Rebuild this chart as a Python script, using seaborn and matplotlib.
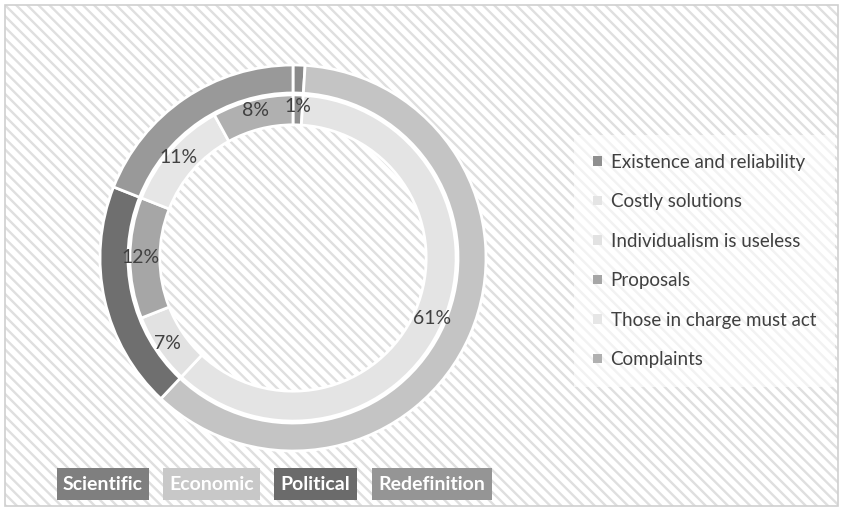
import matplotlib
matplotlib.use('Agg')
import matplotlib.pyplot as plt
import seaborn as sns
from matplotlib.patches import Rectangle, Patch

# ---- data ----
outer_labels = ['Scientific', 'Economic', 'Political', 'Redefinition']
outer_values = [1, 61, 19, 19]
inner_labels = ['Existence and reliability', 'Costly solutions', 'Individualism is useless',
                'Proposals', 'Those in charge must act', 'Complaints']
inner_values = [1, 61, 7, 12, 11, 8]

outer_colors = ['#8a8a8a', '#c4c4c4', '#6f6f6f', '#999999']
inner_colors = ['#8f8f8f', '#e4e4e4', '#e2e2e2', '#a6a6a6', '#e6e6e6', '#b0b0b0']
box_colors = ['#7f7f7f', '#c8c8c8', '#6b6b6b', '#959595']

sns.set_theme(style='white')
plt.rcParams['font.family'] = ['Lato', 'DejaVu Sans']
plt.rcParams['hatch.linewidth'] = 1.7

W, H = 843, 511
fig = plt.figure(figsize=(W / 100, H / 100), dpi=100)
fig.patch.set_facecolor('white')

# hatched chart area + border
bg = Rectangle((5 / W, 5 / H), 833 / W, 501 / H, transform=fig.transFigure,
               facecolor='white', edgecolor='#dfdfdf', hatch='\\\\\\', linewidth=0, zorder=-2)
fig.patches.append(bg)
border = Rectangle((5 / W, 5 / H), 833 / W, 501 / H, transform=fig.transFigure,
                   fill=False, edgecolor='#d0d0d0', linewidth=1.2, zorder=-1)
fig.patches.append(border)

# donut axes
cx, cy, R = 293, 258, 193
ax = fig.add_axes([(cx - R) / W, (H - cy - R) / H, 2 * R / W, 2 * R / H])
ax.patch.set_alpha(0)
ax.set_zorder(1)

ax.pie(outer_values, radius=1.0, colors=outer_colors, startangle=90, counterclock=False,
       wedgeprops=dict(width=0.145, edgecolor='white', linewidth=2))
inner_wedges, _, autotexts = ax.pie(
    inner_values, radius=0.845, colors=inner_colors, startangle=90, counterclock=False,
    autopct=lambda p: f'{p:.0f}%', pctdistance=0.932,
    textprops=dict(color='#404040', fontsize=14),
    wedgeprops=dict(width=0.155, edgecolor='white', linewidth=2))
ax.set_xlim(-1, 1)
ax.set_ylim(-1, 1)
ax.set_aspect('equal')
ax.axis('off')

handles = [Patch(facecolor=w.get_facecolor(), edgecolor='none') for w in inner_wedges]
leg = ax.legend(handles, inner_labels, loc='upper left',
                bbox_to_anchor=(574 / W, 1 - 135 / H), bbox_transform=fig.transFigure,
                frameon=True, facecolor='white', framealpha=0.6, edgecolor='none',
                fancybox=False, fontsize=13.5, labelcolor='#404040',
                handlelength=0.5, handleheight=0.4, handletextpad=0.45,
                labelspacing=1.2, borderpad=1.0, borderaxespad=0)

# category boxes at bottom
box_left = [57, 163, 274, 372]
box_width = [92, 97, 83, 120]
for lab, col, x0, w in zip(outer_labels, box_colors, box_left, box_width):
    r = Rectangle((x0 / W, (H - 500) / H), w / W, 32 / H, transform=fig.transFigure,
                  facecolor=col, edgecolor='none', zorder=2)
    fig.patches.append(r)
    fig.text((x0 + w / 2) / W, (H - 484) / H, lab, color='white', fontsize=14,
             fontweight='bold', ha='center', va='center', zorder=3)

fig.savefig('out.png', dpi=100)
